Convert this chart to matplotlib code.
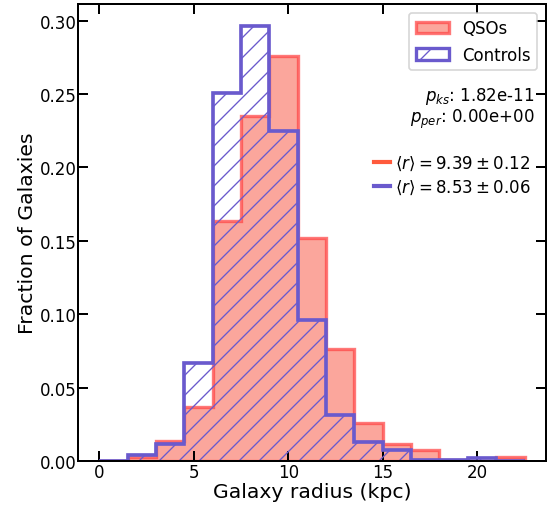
import numpy as np
import matplotlib
matplotlib.use("Agg")
import matplotlib.pyplot as plt
from matplotlib.patches import Patch
from matplotlib.lines import Line2D

bin_edges = [0, 1.5, 3, 4.5, 6, 7.5, 9, 10.5, 12, 13.5, 15, 16.5, 18, 19.5, 21, 22.5]
qso_frac = [0.0, 0.0030, 0.0138, 0.0370, 0.1636, 0.2350, 0.2760, 0.1518, 0.0760,
            0.0257, 0.0116, 0.0075, 0.0007, 0.0, 0.0027]
ctrl_frac = [0.0, 0.0041, 0.0118, 0.0668, 0.2506, 0.2965, 0.2247, 0.0961, 0.0310,
             0.0127, 0.0077, 0.0010, 0.0010, 0.0018, 0.0]

p_ks_text = "1.82e-11"
p_per_text = "0.00e+00"
mean_qso, err_qso = 9.39, 0.12
mean_ctrl, err_ctrl = 8.53, 0.06

plt.rcParams["hatch.linewidth"] = 0.8

DPI = 120
fig = plt.figure(figsize=(553 / DPI, 507 / DPI), dpi=DPI)
ax = fig.add_axes([0.141, 0.0888, 0.846, 0.901])

centers = [(bin_edges[i] + bin_edges[i + 1]) / 2 for i in range(len(bin_edges) - 1)]
qso_fill = (0.98, 0.50, 0.45, 0.7)
qso_edge = (1.0, 0.25, 0.25, 0.7)
ctrl_col = "#6a5acd"

ax.hist(centers, bins=bin_edges, weights=qso_frac, histtype="stepfilled",
        facecolor=qso_fill, edgecolor=qso_edge, linewidth=2)
ax.hist(centers, bins=bin_edges, weights=ctrl_frac, histtype="step",
        edgecolor=ctrl_col, linewidth=2.2, hatch="//", fill=False)

ax.set_xlabel("Galaxy radius (kpc)", fontsize=12.2, labelpad=1)
ax.set_ylabel("Fraction of Galaxies", fontsize=12.2, labelpad=1.5)
ax.tick_params(direction="in", top=True, right=True, labelsize=10, length=6,
               width=1.2, pad=1)
for s in ax.spines.values():
    s.set_linewidth(1.2)
ax.set_xticks([0, 5, 10, 15, 20])
ax.set_yticks([0, 0.05, 0.10, 0.15, 0.20, 0.25, 0.30])
ax.set_xlim(-1.125, 23.625)
ax.set_ylim(0, 0.3113)

h1 = Patch(facecolor=qso_fill, edgecolor=qso_edge, linewidth=2, label="QSOs")
h2 = Patch(facecolor="none", edgecolor=ctrl_col, linewidth=2, hatch="/", label="Controls")
leg1 = ax.legend(handles=[h1, h2], loc="upper right", fontsize=10, framealpha=0.8)
ax.add_artist(leg1)

ax.text(0.975, 0.801, r"$p_{ks}$: " + p_ks_text, transform=ax.transAxes,
        ha="right", va="center", fontsize=10)
ax.text(0.975, 0.750, r"$p_{per}$: " + p_per_text, transform=ax.transAxes,
        ha="right", va="center", fontsize=10)

l1 = Line2D([], [], color="#ff5a3c", lw=2.5,
            label=r"$\langle r\rangle = %.2f \pm %.2f$" % (mean_qso, err_qso))
l2 = Line2D([], [], color=ctrl_col, lw=2.5,
            label=r"$\langle r\rangle = %.2f \pm %.2f$" % (mean_ctrl, err_ctrl))
ax.legend(handles=[l1, l2], loc="upper right", bbox_to_anchor=(1.0, 0.705),
          frameon=False, fontsize=10, handlelength=1.0, handletextpad=0.3,
          labelspacing=0.35)

fig.savefig("out.png", dpi=DPI)
